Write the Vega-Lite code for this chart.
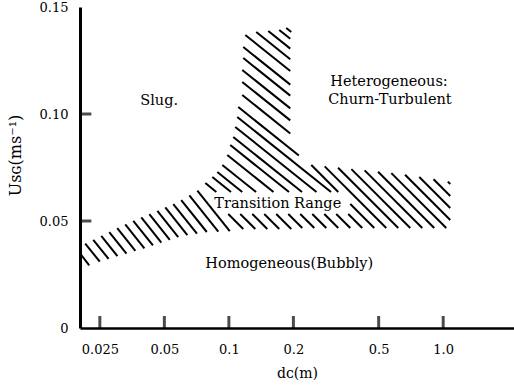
{
  "$schema": "https://vega.github.io/schema/vega-lite/v6.json",
  "width": 434,
  "height": 321,
  "autosize": {"type": "none"},
  "padding": {"left": 80, "top": 7, "right": 0, "bottom": 62},
  "background": "white",
  "config": {"view": {"stroke": null}},
  "datasets": {
    "hatch": [
      {"x": 0.18527, "y": 0.14019, "x2": 0.19549, "y2": 0.13832},
      {"x": 0.17184, "y": 0.13925, "x2": 0.1934, "y2": 0.13514},
      {"x": 0.15269, "y": 0.13879, "x2": 0.1934, "y2": 0.13056},
      {"x": 0.13421, "y": 0.13832, "x2": 0.1934, "y2": 0.12561},
      {"x": 0.11931, "y": 0.13692, "x2": 0.1934, "y2": 0.12009},
      {"x": 0.1167, "y": 0.13131, "x2": 0.1934, "y2": 0.11374},
      {"x": 0.1167, "y": 0.12617, "x2": 0.1934, "y2": 0.1086},
      {"x": 0.11545, "y": 0.12056, "x2": 0.1934, "y2": 0.10262},
      {"x": 0.11545, "y": 0.11495, "x2": 0.1934, "y2": 0.09701},
      {"x": 0.11545, "y": 0.10888, "x2": 0.1934, "y2": 0.09093},
      {"x": 0.1106, "y": 0.10327, "x2": 0.21208, "y2": 0.08061},
      {"x": 0.10942, "y": 0.0986, "x2": 0.29961, "y2": 0.06355},
      {"x": 0.10709, "y": 0.09393, "x2": 0.25644, "y2": 0.06355},
      {"x": 0.10481, "y": 0.08925, "x2": 0.21939, "y2": 0.06355},
      {"x": 0.1015, "y": 0.08551, "x2": 0.19082, "y2": 0.06355},
      {"x": 0.09829, "y": 0.08084, "x2": 0.16154, "y2": 0.06355},
      {"x": 0.09318, "y": 0.07617, "x2": 0.13392, "y2": 0.06355},
      {"x": 0.08831, "y": 0.0729, "x2": 0.11545, "y2": 0.06355},
      {"x": 0.08368, "y": 0.07056, "x2": 0.10232, "y2": 0.06355},
      {"x": 0.07766, "y": 0.06776, "x2": 0.08736, "y2": 0.06355},
      {"x": 0.0203, "y": 0.03458, "x2": 0.02231, "y2": 0.0293},
      {"x": 0.02137, "y": 0.03944, "x2": 0.02498, "y2": 0.03098},
      {"x": 0.02329, "y": 0.04121, "x2": 0.02746, "y2": 0.03229},
      {"x": 0.02538, "y": 0.04304, "x2": 0.03021, "y2": 0.03355},
      {"x": 0.02766, "y": 0.04481, "x2": 0.03327, "y2": 0.03477},
      {"x": 0.03014, "y": 0.04664, "x2": 0.03662, "y2": 0.03603},
      {"x": 0.03285, "y": 0.04841, "x2": 0.04034, "y2": 0.03724},
      {"x": 0.0358, "y": 0.05005, "x2": 0.04422, "y2": 0.0386},
      {"x": 0.03902, "y": 0.05164, "x2": 0.04842, "y2": 0.03995},
      {"x": 0.04254, "y": 0.05318, "x2": 0.05301, "y2": 0.04121},
      {"x": 0.04638, "y": 0.05477, "x2": 0.05804, "y2": 0.0425},
      {"x": 0.05051, "y": 0.05631, "x2": 0.06401, "y2": 0.04341},
      {"x": 0.05504, "y": 0.0579, "x2": 0.07096, "y2": 0.04407},
      {"x": 0.05994, "y": 0.05972, "x2": 0.07888, "y2": 0.04486},
      {"x": 0.06539, "y": 0.06201, "x2": 0.08926, "y2": 0.04509},
      {"x": 0.07127, "y": 0.06425, "x2": 0.10095, "y2": 0.04528},
      {"x": 0.09934, "y": 0.05327, "x2": 0.1167, "y2": 0.04626},
      {"x": 0.113, "y": 0.05327, "x2": 0.13285, "y2": 0.04626},
      {"x": 0.12863, "y": 0.05327, "x2": 0.15106, "y2": 0.04626},
      {"x": 0.14625, "y": 0.05327, "x2": 0.17184, "y2": 0.04626},
      {"x": 0.16639, "y": 0.05327, "x2": 0.19549, "y2": 0.04626},
      {"x": 0.18929, "y": 0.05327, "x2": 0.21997, "y2": 0.04673},
      {"x": 0.2153, "y": 0.05327, "x2": 0.25033, "y2": 0.04673},
      {"x": 0.245, "y": 0.05327, "x2": 0.28478, "y2": 0.04673},
      {"x": 0.27872, "y": 0.05327, "x2": 0.32387, "y2": 0.04673},
      {"x": 0.31698, "y": 0.05327, "x2": 0.3685, "y2": 0.04673},
      {"x": 0.36058, "y": 0.05327, "x2": 0.4191, "y2": 0.04673},
      {"x": 0.24239, "y": 0.07617, "x2": 0.32387, "y2": 0.06355},
      {"x": 0.3685, "y": 0.05794, "x2": 0.47685, "y2": 0.04673},
      {"x": 0.27992, "y": 0.07551, "x2": 0.54247, "y2": 0.04673},
      {"x": 0.32318, "y": 0.07486, "x2": 0.61711, "y2": 0.04673},
      {"x": 0.37289, "y": 0.07425, "x2": 0.702, "y2": 0.04673},
      {"x": 0.43005, "y": 0.07364, "x2": 0.79856, "y2": 0.04673},
      {"x": 0.49673, "y": 0.07299, "x2": 0.9084, "y2": 0.04673},
      {"x": 0.57294, "y": 0.07238, "x2": 1.03343, "y2": 0.04673},
      {"x": 0.66385, "y": 0.07159, "x2": 1.0788, "y2": 0.05047},
      {"x": 0.77325, "y": 0.07056, "x2": 1.0788, "y2": 0.05607},
      {"x": 0.90162, "y": 0.06949, "x2": 1.0788, "y2": 0.06168},
      {"x": 1.05126, "y": 0.06841, "x2": 1.0788, "y2": 0.06729}
    ],
    "xticks": [{"v": 0.025}, {"v": 0.05}, {"v": 0.1}, {"v": 0.2}, {"v": 0.5}, {"v": 1}],
    "yticks": [{"v": 0.05}, {"v": 0.1}],
    "labels": [
      {"text": "Slug.", "x": 0.0386, "y": 0.1042},
      {"text": "Heterogeneous:", "x": 0.2972, "y": 0.11308},
      {"text": "Churn-Turbulent", "x": 0.29089, "y": 0.10467},
      {"text": "Transition Range", "x": 0.08551, "y": 0.05607},
      {"text": "Homogeneous(Bubbly)", "x": 0.07766, "y": 0.02804}
    ]
  },
  "layer": [
    {
      "data": {"name": "hatch"},
      "mark": {"type": "rule", "color": "black", "strokeWidth": 2},
      "encoding": {
        "x": {
          "field": "x", "type": "quantitative",
          "scale": {"type": "log", "domain": [0.0202, 2.14], "nice": false},
          "axis": {
            "values": [0.025, 0.05, 0.1, 0.2, 0.5, 1],
            "labelExpr": "datum.value == 1 ? '1.0' : format(datum.value, '~g')",
            "title": "dᴄ(m)",
            "grid": false,
            "ticks": false,
            "domainWidth": 2.5, "domainColor": "black",
            "labelFont": "DejaVu Serif", "labelFontSize": 13, "labelColor": "black",
            "labelPadding": 15,
            "titleFont": "DejaVu Serif", "titleFontSize": 14, "titleFontWeight": "normal", "titleColor": "black",
            "titlePadding": 10
          }
        },
        "x2": {"field": "x2"},
        "y": {
          "field": "y", "type": "quantitative",
          "scale": {"domain": [0, 0.15], "nice": false},
          "axis": {
            "values": [0, 0.05, 0.1, 0.15],
            "labelExpr": "datum.value == 0 ? '0' : format(datum.value, '.2f')",
            "title": "Uꜱɢ(ms⁻¹)",
            "grid": false,
            "ticks": false,
            "domainWidth": 3, "domainColor": "black",
            "labelFont": "DejaVu Serif", "labelFontSize": 13, "labelColor": "black",
            "labelPadding": 12,
            "titleFont": "DejaVu Serif", "titleFontSize": 16, "titleFontWeight": "normal", "titleColor": "black",
            "titleX": -65, "titleY": 148, "titleBaseline": "middle", "titleAngle": -90
          }
        },
        "y2": {"field": "y2"}
      }
    },
    {
      "data": {"name": "xticks"},
      "mark": {"type": "tick", "color": "black", "thickness": 3, "size": 12, "orient": "vertical"},
      "encoding": {
        "x": {"field": "v", "type": "quantitative"},
        "y": {"datum": 0.0028}
      }
    },
    {
      "data": {"name": "yticks"},
      "mark": {"type": "tick", "color": "black", "thickness": 3, "size": 12, "orient": "horizontal"},
      "encoding": {
        "y": {"field": "v", "type": "quantitative"},
        "x": {"datum": 0.0214}
      }
    },
    {
      "mark": {"type": "rule", "color": "black", "strokeWidth": 2},
      "encoding": {"y": {"datum": 0.15}}
    },
    {
      "data": {"name": "labels"},
      "mark": {"type": "text", "align": "left", "baseline": "alphabetic", "font": "DejaVu Serif", "fontSize": 14.5, "color": "black"},
      "encoding": {
        "x": {"field": "x", "type": "quantitative"},
        "y": {"field": "y", "type": "quantitative"},
        "text": {"field": "text"}
      }
    }
  ]
}
